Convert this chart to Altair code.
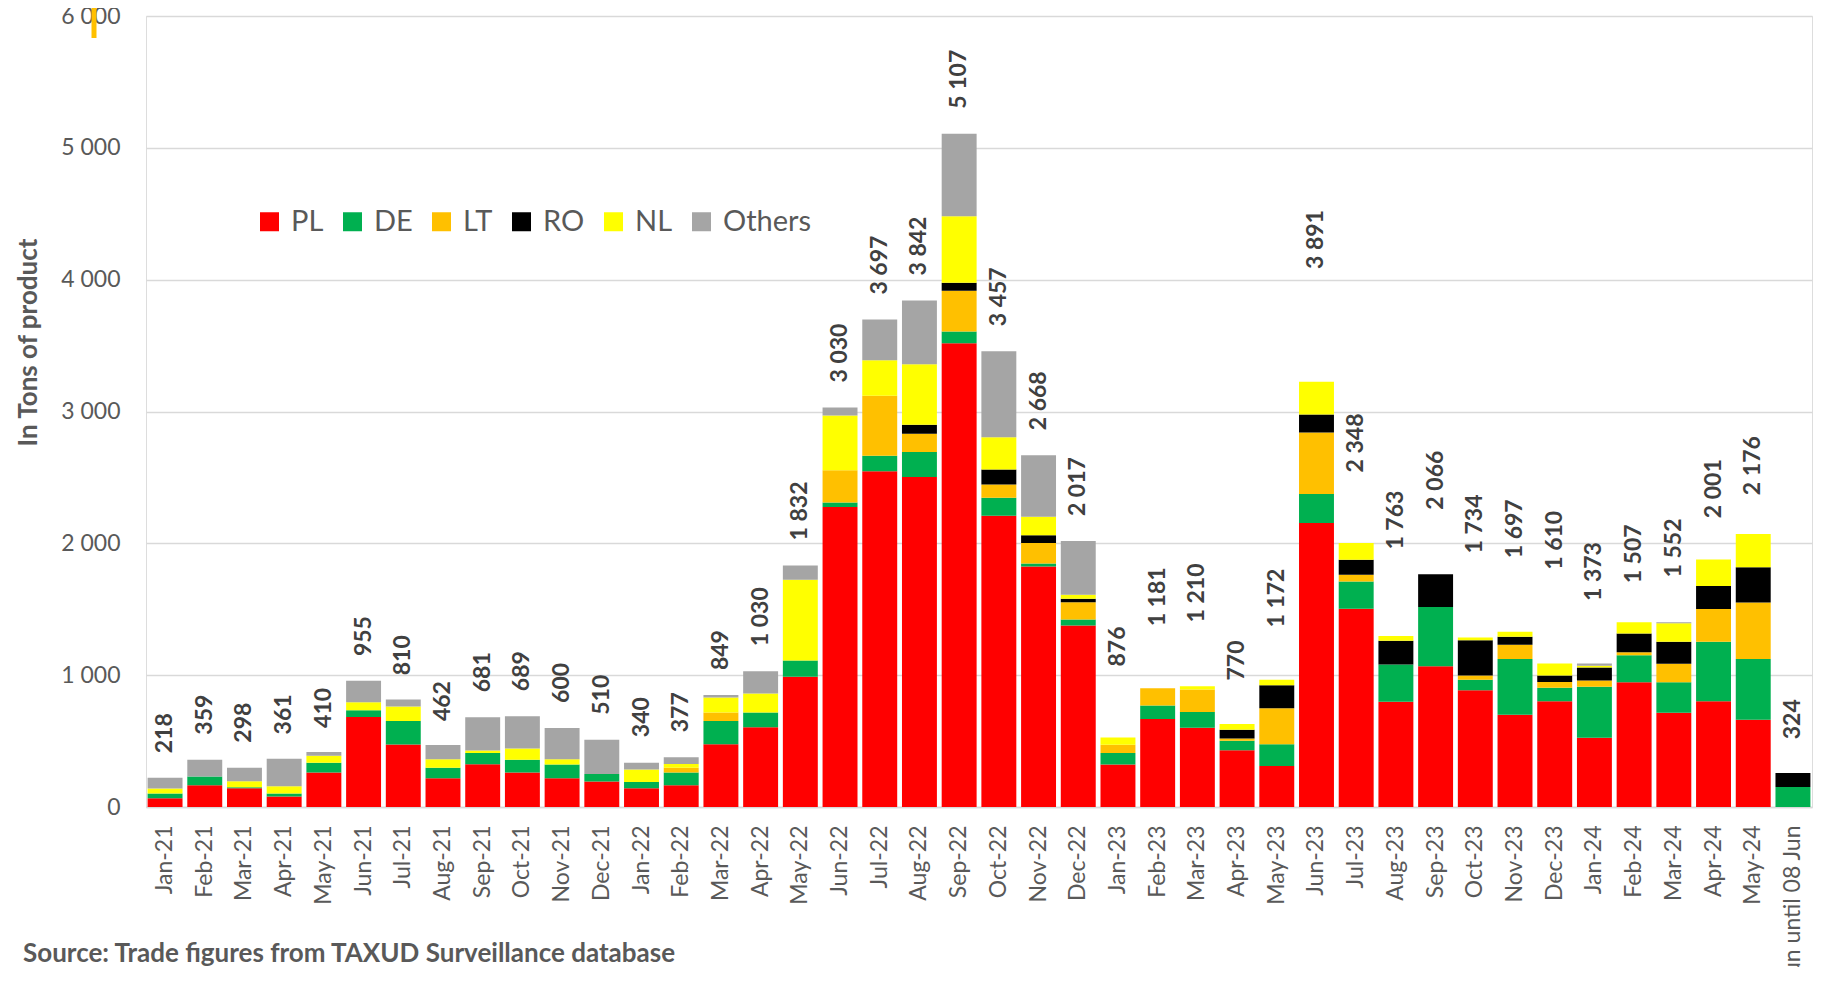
import altair as alt
import pandas as pd

months = ["Jan-21", "Feb-21", "Mar-21", "Apr-21", "May-21", "Jun-21", "Jul-21", "Aug-21",
          "Sep-21", "Oct-21", "Nov-21", "Dec-21",
          "Jan-22", "Feb-22", "Mar-22", "Apr-22", "May-22", "Jun-22", "Jul-22", "Aug-22",
          "Sep-22", "Oct-22", "Nov-22", "Dec-22",
          "Jan-23", "Feb-23", "Mar-23", "Apr-23", "May-23", "Jun-23", "Jul-23", "Aug-23",
          "Sep-23", "Oct-23", "Nov-23", "Dec-23",
          "Jan-24", "Feb-24", "Mar-24", "Apr-24", "May-24", "Jun until 08 Jun"]

totals = [218, 359, 298, 361, 410, 955, 810, 462, 681, 689, 600, 510,
          340, 377, 849, 1030, 1832, 3030, 3697, 3842, 5107, 3457, 2668, 2017,
          876, 1181, 1210, 770, 1172, 3891, 2348, 1763, 2066, 1734, 1697, 1610,
          1373, 1507, 1552, 2001, 2176, 324]

PL = [66, 165, 142, 79, 262, 683, 475, 218, 325, 262, 218, 193,
      142, 165, 476, 604, 988, 2276, 2547, 2503, 3517, 2209, 1824, 1377,
      323, 668, 602, 430, 311, 2155, 1503, 798, 1068, 885, 700, 802,
      525, 947, 714, 802, 662, 0]
DE = [36, 66, 8, 23, 74, 51, 178, 79, 84, 97, 104, 58,
      48, 97, 177, 113, 124, 34, 117, 189, 90, 136, 23, 45,
      87, 102, 118, 72, 165, 220, 208, 283, 450, 81, 423, 102,
      388, 204, 233, 452, 461, 152]
LT = [0, 0, 0, 0, 0, 0, 0, 0, 0, 0, 0, 0,
      0, 36, 64, 0, 0, 245, 456, 139, 309, 102, 155, 132,
      62, 130, 171, 18, 273, 466, 50, 0, 0, 31, 108, 44,
      47, 23, 140, 248, 428, 0]
RO = [0, 0, 0, 0, 0, 0, 0, 0, 0, 0, 0, 0,
      0, 0, 0, 0, 0, 0, 0, 68, 60, 113, 60, 26,
      0, 0, 0, 66, 174, 137, 115, 180, 248, 267, 61, 50,
      99, 143, 166, 175, 268, 105]
NL = [38, 0, 46, 56, 53, 61, 109, 66, 20, 84, 41, 0,
      94, 28, 113, 143, 611, 415, 268, 460, 505, 245, 139, 30,
      56, 0, 25, 44, 43, 248, 127, 37, 0, 22, 38, 90,
      12, 85, 140, 201, 251, 0]
Others = [81, 128, 102, 208, 28, 163, 53, 107, 252, 246, 237, 259,
          51, 51, 19, 170, 109, 60, 309, 483, 626, 652, 467, 407,
          0, 0, 0, 0, 0, 0, 0, 0, 0, 0, 0, 0,
          17, 0, 9, 0, 0, 0]

countries = ["PL", "DE", "LT", "RO", "NL", "Others"]
colors = ["#FF0000", "#00B050", "#FFC000", "#000000", "#FFFF00", "#A5A5A5"]
series = [PL, DE, LT, RO, NL, Others]

rows = []
for ci, (c, vals) in enumerate(zip(countries, series)):
    for m, v in zip(months, vals):
        rows.append({"month": m, "country": c, "value": v, "order": ci})
df = pd.DataFrame(rows)
df_tot = pd.DataFrame({"month": months, "total": totals})

FONT = "Lato"
GRID = "#D9D9D9"
TXT = "#595959"

x_enc = alt.X("month:N", sort=months,
              scale=alt.Scale(paddingInner=0.12, paddingOuter=0.04),
              axis=alt.Axis(title=None, labelAngle=270, labelFontSize=23, labelColor=TXT,
                            labelPadding=18, ticks=False, domainColor=GRID, domainWidth=1.5,
                            labelLimit=400, labelFont=FONT))
y_scale = alt.Scale(domain=[0, 6000], nice=False)

bars = alt.Chart(df).mark_bar().encode(
    x=x_enc,
    y=alt.Y("value:Q", stack="zero", scale=y_scale,
            axis=alt.Axis(values=[0, 1000, 2000, 3000, 4000, 5000, 6000],
                          labelExpr="replace(format(datum.value, ','), ',', ' ')",
                          grid=True, gridColor=GRID, gridWidth=1.5, domain=False, ticks=False,
                          labelPadding=26, labelFontSize=23, labelColor=TXT, labelFont=FONT,
                          title="In Tons of product", titleFontSize=26, titleFontWeight="bold",
                          titleColor=TXT, titleFont=FONT, titleX=-118, titleY=326,
                          titleAngle=270, titleAlign="center", titleBaseline="middle")),
    color=alt.Color("country:N", scale=alt.Scale(domain=countries, range=colors),
                    legend=alt.Legend(title=None, orient="none", legendX=109, legendY=191,
                                      direction="horizontal", columns=6,
                                      symbolType="square", symbolSize=361,
                                      symbolStrokeWidth=0, labelFontSize=29,
                                      labelColor=TXT, labelFont=FONT, labelOffset=7,
                                      columnPadding=14)),
    order=alt.Order("order:Q", sort="ascending"),
)

labels = alt.Chart(df_tot).transform_calculate(
    label="replace(format(datum.total, ','), ',', ' ')"
).mark_text(angle=270, align="left", baseline="middle", dx=25, fontSize=23,
            fontWeight="bold", color="#404040", font=FONT).encode(
    x=alt.X("month:N", sort=months),
    y=alt.Y("total:Q", scale=y_scale),
    text="label:N",
)

note_df = pd.DataFrame({"k": [0]})
source = alt.Chart(note_df).mark_text(
    text="Source: Trade figures from TAXUD Surveillance database",
    align="left", baseline="middle", fontSize=26, fontWeight="bold", color=TXT, font=FONT
).encode(x=alt.value(-123), y=alt.value(938))

artifact = alt.Chart(note_df).mark_rule(color="#FFC000", strokeWidth=5).encode(
    x=alt.value(-52), y=alt.value(-8), y2=alt.value(22))

chart = alt.layer(bars, labels, source, artifact).properties(
    width=1666, height=791,
    autosize=alt.AutoSizeParams(type="none"),
    padding={"left": 138, "top": 8, "right": 2, "bottom": 160},
).configure_view(stroke=None).configure(font=FONT)

chart.save("out.html", embed_options={"renderer": "svg", "actions": False})
